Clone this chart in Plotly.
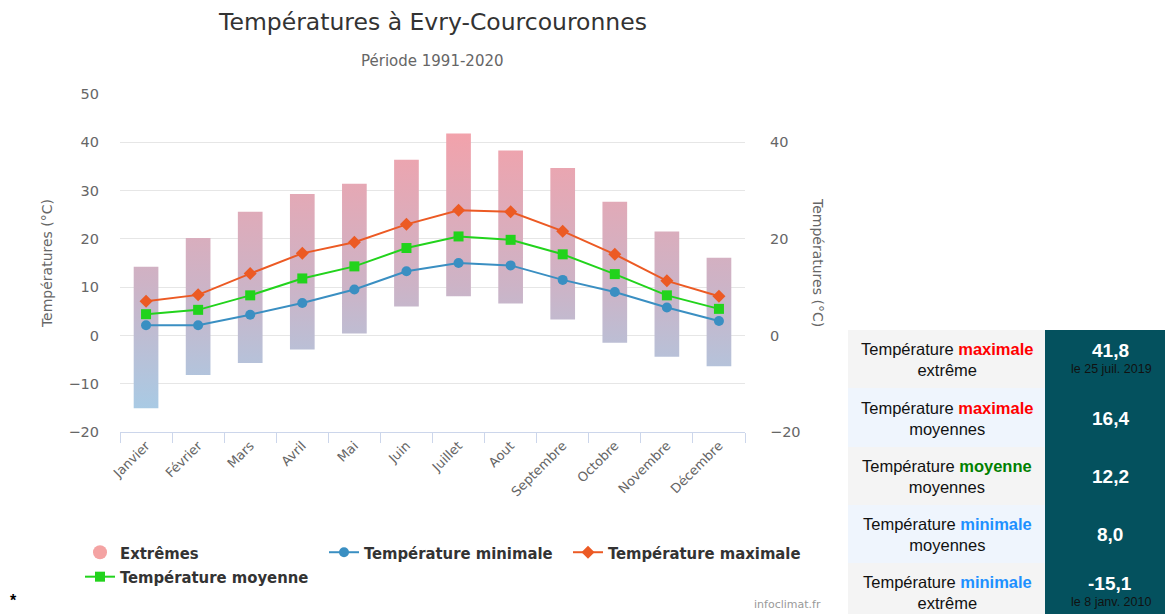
import plotly.graph_objects as go

# ---------------- data ----------------
months = ["Janvier", "Février", "Mars", "Avril", "Mai", "Juin", "Juillet",
          "Aout", "Septembre", "Octobre", "Novembre", "Décembre"]
t_min = [2.1, 2.1, 4.3, 6.7, 9.5, 13.3, 15.0, 14.5, 11.5, 9.0, 5.8, 3.0]
t_moy = [4.4, 5.3, 8.3, 11.8, 14.3, 18.1, 20.5, 19.8, 16.8, 12.7, 8.3, 5.5]
t_max = [7.1, 8.4, 12.8, 17.0, 19.3, 23.0, 25.9, 25.6, 21.6, 16.8, 11.3, 8.1]
ext_min = [-15.1, -8.2, -5.7, -2.9, 0.4, 6.0, 8.1, 6.6, 3.3, -1.5, -4.4, -6.4]
ext_max = [14.2, 20.2, 25.6, 29.3, 31.4, 36.4, 41.8, 38.3, 34.7, 27.7, 21.5, 16.1]

left_ticks = [-20, -10, 0, 10, 20, 30, 40, 50]
right_ticks = [-20, 0, 20, 40]

table_labels = [
    'Température <span style="color:#ff0000"><b>maximale</b></span><br>extrême',
    'Température <span style="color:#ff0000"><b>maximale</b></span><br>moyennes',
    'Température <span style="color:#008000"><b>moyenne</b></span><br>moyennes',
    'Température <span style="color:#1e90ff"><b>minimale</b></span><br>moyennes',
    'Température <span style="color:#1e90ff"><b>minimale</b></span><br>extrême',
]
table_values = ["41,8", "16,4", "12,2", "8,0", "-15,1"]
table_dates = ["le 25 juil. 2019", "", "", "", "le 8 janv. 2010"]

# ---------------- layout geometry (page pixels; page has an 8px body margin) ----------------
OFF = 8
W, H = 1173 - OFF, 614 - OFF
PL, PR, PT, PB = 120, 745, 94, 432   # plot area in page pixels


def px(x):
    return (x - PL) / (PR - PL)


def py(y):
    return (PB - y) / (PB - PT)


FONT = "DejaVu Sans"
GRAY = "#666666"

# bar polygons for extremes, derived from data
half = 0.237
bx, by = [], []
for i, (lo, hi) in enumerate(zip(ext_min, ext_max)):
    bx += [i - half, i + half, i + half, i - half, i - half, None]
    by += [lo, lo, hi, hi, lo, None]

idx = list(range(len(months)))

fig = go.Figure()
fig.add_trace(go.Scatter(
    x=bx, y=by, mode="lines", fill="toself", line=dict(width=0),
    fillgradient=dict(type="vertical", start=-15, stop=42,
                      colorscale=[[0, "#a9cae4"], [0.45, "#cdb3c6"], [1, "#f2a2ab"]]),
    showlegend=False, hoverinfo="skip"))
fig.add_trace(go.Scatter(
    x=[None], y=[None], mode="markers", name="Extrêmes",
    marker=dict(symbol="circle", size=14, color="#f4a3a3"), yaxis="y2"))
fig.add_trace(go.Scatter(
    x=idx, y=t_min, mode="lines+markers", name="Température minimale",
    line=dict(color="#3a8fc2", width=2),
    marker=dict(symbol="circle", size=10, color="#3a8fc2")))
fig.add_trace(go.Scatter(
    x=idx, y=t_max, mode="lines+markers", name="Température maximale",
    line=dict(color="#ec5a24", width=2),
    marker=dict(symbol="diamond", size=10, color="#ec5a24")))
fig.add_trace(go.Scatter(
    x=idx, y=t_moy, mode="lines+markers", name="Température moyenne",
    line=dict(color="#22d31c", width=2),
    marker=dict(symbol="square", size=10, color="#22d31c")))

shapes = []
annotations = []

# table
row_tops = [330, 388, 447, 505, 563, 620]
row_colors = ["#f4f4f4", "#eff5fd", "#f4f4f4", "#eff5fd", "#f4f4f4"]
for r in range(5):
    shapes.append(dict(type="rect", xref="paper", yref="paper",
                       x0=px(848), x1=px(1045), y0=py(row_tops[r + 1]), y1=py(row_tops[r]),
                       fillcolor=row_colors[r], line=dict(width=0), layer="below"))
shapes.append(dict(type="rect", xref="paper", yref="paper",
                   x0=px(1045), x1=px(1180), y0=py(620), y1=py(330),
                   fillcolor="#04515e", line=dict(width=0), layer="below"))

row_centers = [359, 418, 476, 534, 592]
for r in range(5):
    yc = row_centers[r]
    annotations.append(dict(
        x=px(947), y=py(yc), xref="paper", yref="paper", text=table_labels[r],
        showarrow=False, xanchor="center", yanchor="middle", align="center",
        font=dict(family="Liberation Sans", size=16.5, color="#111111")))
    if table_dates[r]:
        annotations.append(dict(
            x=px(1110), y=py(yc - 9), xref="paper", yref="paper",
            text="<b>" + table_values[r] + "</b>", showarrow=False,
            xanchor="center", yanchor="middle",
            font=dict(family="Liberation Sans", size=19, color="#ffffff")))
        annotations.append(dict(
            x=px(1111), y=py(yc + 10), xref="paper", yref="paper",
            text=table_dates[r], showarrow=False, xanchor="center", yanchor="middle",
            font=dict(family="Liberation Sans", size=12.5, color="#111111")))
    else:
        annotations.append(dict(
            x=px(1110), y=py(yc), xref="paper", yref="paper",
            text="<b>" + table_values[r] + "</b>", showarrow=False,
            xanchor="center", yanchor="middle",
            font=dict(family="Liberation Sans", size=19, color="#ffffff")))

# subtitle
annotations.append(dict(
    x=px(432), y=py(61), xref="paper", yref="paper", text="Période 1991-2020",
    showarrow=False, xanchor="center", yanchor="middle",
    font=dict(family=FONT, size=15, color=GRAY)))
# right axis title
annotations.append(dict(
    x=px(818), y=py(262), xref="paper", yref="paper", text="Températures (°C)",
    showarrow=False, xanchor="center", yanchor="middle", textangle=90,
    font=dict(family=FONT, size=14, color=GRAY)))
# star
annotations.append(dict(
    x=px(13), y=py(600), xref="paper", yref="paper", text="<b>*</b>",
    showarrow=False, xanchor="center", yanchor="middle",
    font=dict(family="Liberation Sans", size=16, color="#000000")))
# credits
annotations.append(dict(
    x=px(787), y=py(604), xref="paper", yref="paper", text="infoclimat.fr",
    showarrow=False, xanchor="center", yanchor="middle",
    font=dict(family=FONT, size=11, color="#999999")))

fig.update_layout(
    width=W, height=H,
    margin=dict(l=PL - OFF, r=W - (PR - OFF), t=PT - OFF, b=H - (PB - OFF), pad=0),
    paper_bgcolor="#ffffff", plot_bgcolor="#ffffff",
    font=dict(family=FONT, color=GRAY),
    title=dict(text="Températures à Evry-Courcouronnes",
               xref="container", yref="container",
               x=(433 - OFF) / W, y=1 - (22 - OFF) / H, xanchor="center", yanchor="middle",
               font=dict(family=FONT, size=23.5, color="#333333")),
    xaxis=dict(range=[-0.5, 11.5], tickmode="array", tickvals=idx, ticktext=months,
               tickangle=-45, ticks="", showgrid=False, zeroline=False,
               showline=True, linecolor="#ccd6eb", linewidth=1,
               tickfont=dict(family=FONT, size=13, color=GRAY),
               minor=dict(tickmode="array", tickvals=[i - 0.5 for i in range(13)],
                          ticks="outside", ticklen=10, tickcolor="#ccd6eb",
                          tickwidth=1, showgrid=False)),
    yaxis=dict(range=[-20, 50], tickmode="array", tickvals=left_ticks,
               showgrid=True, gridcolor="#e6e6e6", gridwidth=1, zeroline=False,
               ticks="", ticklabelstandoff=20,
               tickfont=dict(family=FONT, size=14.5, color=GRAY),
               title=dict(text="Températures (°C)", standoff=12,
                          font=dict(family=FONT, size=14, color=GRAY))),
    yaxis2=dict(range=[-20, 50], overlaying="y", side="right", tickmode="array",
                tickvals=right_ticks, showgrid=False, zeroline=False, ticks="",
                ticklabelstandoff=24,
                tickfont=dict(family=FONT, size=14.5, color=GRAY)),
    legend=dict(orientation="h", x=px(80), y=py(535), xanchor="left", yanchor="top",
                entrywidth=199, entrywidthmode="pixels",
                font=dict(family="DejaVu Sans Condensed, DejaVu Sans", size=16.5,
                          color="#333333", weight="bold"),
                bgcolor="rgba(0,0,0,0)", itemclick=False),
    shapes=shapes,
    annotations=annotations,
    showlegend=True,
)

fig.write_html("out.html")
